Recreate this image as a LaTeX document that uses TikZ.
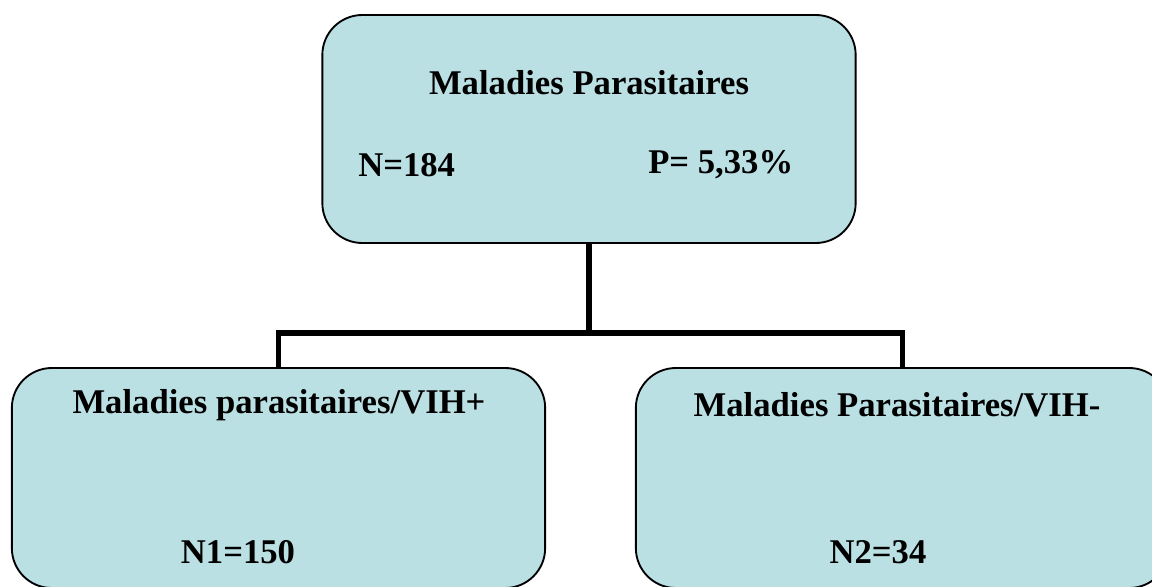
\documentclass[tikz,border=0pt]{standalone}
\usepackage{fontspec}
\setmainfont{Liberation Serif}
\usepackage{tikz}
\usetikzlibrary{positioning,calc}
\definecolor{boxblue}{RGB}{186,224,228}

\begin{document}
\begin{tikzpicture}[
					x=0.75pt, y=-0.75pt,
					box/.style={
						draw=black, fill=boxblue, line width=1.4pt,
						minimum width=400pt, rounded corners=30pt,
						anchor=center
					},
					lbl/.style={font=\bfseries\fontsize{26}{31}\selectfont, inner sep=0pt},
					link/.style={draw=black, line width=4pt}
					]
					\useasboundingbox (0,0) rectangle (1152,586);
					% Les trois cases : la principale en haut, les deux groupes VIH en bas
					\node[box, minimum height=171pt] (top)   at (589, 129)   {};
					\node[box, minimum height=165pt] (left)  at (278.5, 478) {};
					\node[box, minimum height=165pt] (right) at (902.5, 478) {};
					\coordinate (split) at (589, 333);
					% Les liaisons
					\draw[link] (top.south) -- (split);
					\draw[link] (left.north) |- (split) -| (right.north);
					% Textes
					\node[lbl] (titre)  at (589, 83)  {Maladies Parasitaires};
					\node[lbl, anchor=west] (ntot) at (358, 165) {N=184};
					\node[lbl, anchor=west] (ptot) at (648, 165) {P= 5,33\%};
					\node[lbl] (titreg) at (279, 405) {Maladies parasitaires/VIH+};
					\node[lbl] (ngauche) at (238, 552) {N1=150};
					\node[lbl] (titred) at (897, 405) {Maladies Parasitaires/VIH-};
					\node[lbl] (ndroite) at (878, 552) {N2=34};
				\end{tikzpicture}
\end{document}
